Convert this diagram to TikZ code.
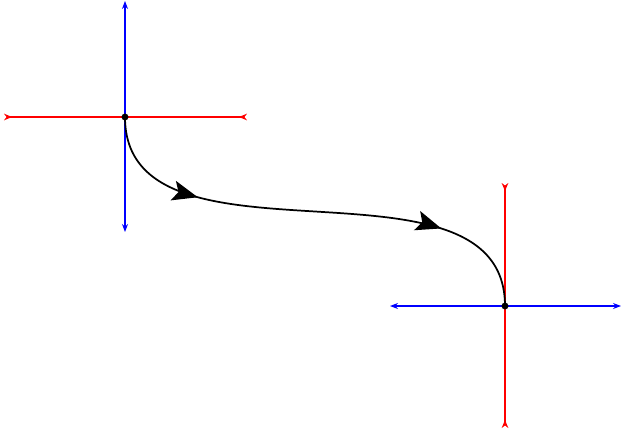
\documentclass[tikz,border=0pt]{standalone}
\usepackage{tikz}
\usetikzlibrary{arrows.meta,decorations.markings}
\tikzset{
  inaxis/.style={draw=red, line width=0.8pt, {Stealth[reversed,length=6pt,width=5pt]}-{Stealth[reversed,length=6pt,width=5pt]}},
  outaxis/.style={draw=blue, line width=0.8pt, {Stealth[length=6pt,width=4.5pt]}-{Stealth[length=6pt,width=4.5pt]}},
  flow/.style={draw=black, line width=1.3pt,
    postaction={decorate},
    decoration={markings,
      mark=at position 0.25 with {\arrow{Stealth[length=19pt,width=15pt,inset=4pt]}},
      mark=at position 0.77 with {\arrow{Stealth[length=19pt,width=15pt,inset=4pt]}}}},
  origin/.style={fill=black},
}

\begin{document}
\begin{tikzpicture}[x=0.75pt, y=0.75pt]
  \useasboundingbox (0,0) rectangle (622,430);

  % first frame
  \coordinate (O1) at (125,313);
  \coordinate (O1w) at (4,313);
  \coordinate (O1e) at (247,313);
  \coordinate (O1n) at (125,429);
  \coordinate (O1s) at (125,198);
  \draw[inaxis] (O1w) -- (O1e);
  \draw[outaxis] (O1s) -- (O1n);

  % second frame
  \coordinate (O2) at (505,124);
  \coordinate (O2n) at (505,247);
  \coordinate (O2s) at (505,2);
  \coordinate (O2w) at (390,124);
  \coordinate (O2e) at (621,124);
  \draw[inaxis] (O2s) -- (O2n);
  \draw[outaxis] (O2w) -- (O2e);

  % path between them
  \draw[flow] (O1) to[out=-90, in=90] (O2);

  \fill[origin] (O1) circle (2.6pt);
  \fill[origin] (O2) circle (2.6pt);
\end{tikzpicture}
\end{document}
